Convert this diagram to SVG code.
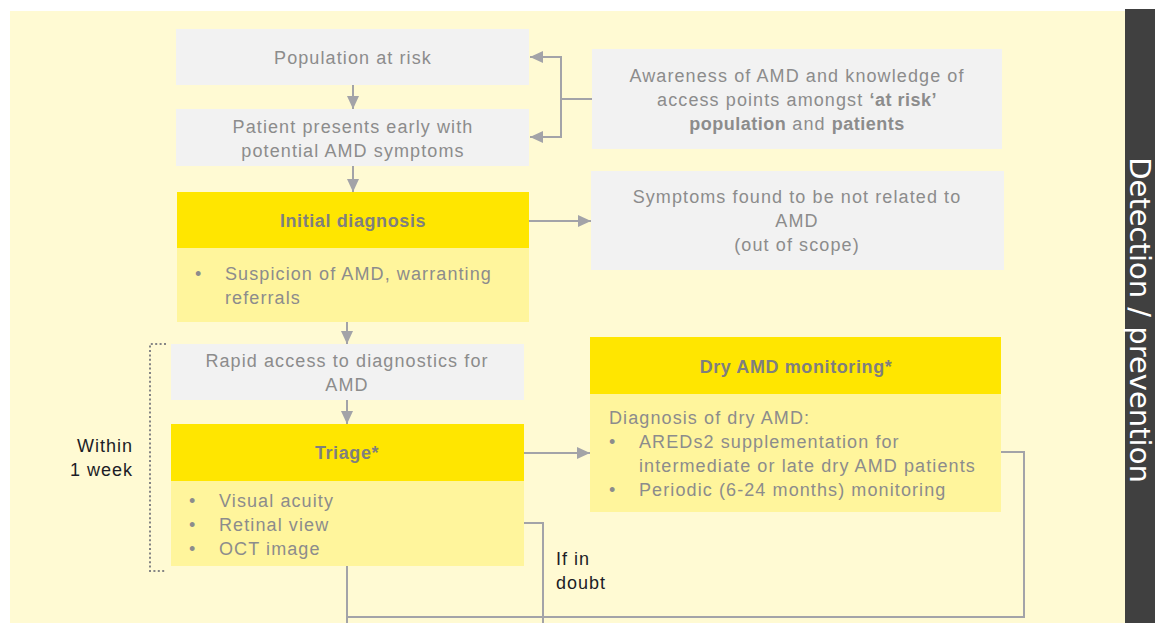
<svg xmlns="http://www.w3.org/2000/svg" width="1155" height="623" viewBox="0 0 1155 623">
<style>
  .grey{fill:#f2f2f2}
  .hdr{fill:#ffe600}
  .body{fill:#fff59c}
  text{font-family:'Liberation Sans',Arial,sans-serif;font-size:18px}
  .t{fill:#8c8c8c;letter-spacing:1.1px}
  .c{text-anchor:middle}
  .b{font-weight:bold;letter-spacing:0.5px}
  .h{fill:#7f7f7f;font-weight:bold;letter-spacing:0.6px;text-anchor:middle}
  .k{fill:#1c1c26;letter-spacing:1px}
  .ln{fill:none;stroke:#a3a3a8;stroke-width:2}
  .dot{fill:none;stroke:#858585;stroke-width:2;stroke-dasharray:2 2.4}
</style>
<defs>
  <marker id="ah" markerUnits="userSpaceOnUse" markerWidth="13" markerHeight="12" viewBox="0 0 13 12" refX="13" refY="6" orient="auto">
    <path d="M0,0 L13,6 L0,12 z" fill="#a3a3a8"/>
  </marker>
</defs>
<rect x="0" y="0" width="1155" height="623" fill="#ffffff"/>
<rect x="10" y="11" width="1115" height="612" fill="#fffad3"/>
<g id="sidebar">
  <rect x="1125" y="9" width="30" height="614" fill="#404040"/>
  <text transform="translate(1130,320) rotate(90)" text-anchor="middle" style="font-family:'DejaVu Sans',sans-serif;font-size:29px;fill:#ffffff">Detection / prevention</text>
</g>
<g id="connectors">
  <path class="ln" d="M353,85 V109" marker-end="url(#ah)"/>
  <path class="ln" d="M353,166 V192" marker-end="url(#ah)"/>
  <path class="ln" d="M592,99 H561 V57 H530" marker-end="url(#ah)"/>
  <path class="ln" d="M561,99 V137 H530" marker-end="url(#ah)"/>
  <path class="ln" d="M529,221 H591" marker-end="url(#ah)"/>
  <path class="ln" d="M347,322 V344" marker-end="url(#ah)"/>
  <path class="ln" d="M347,400 V424" marker-end="url(#ah)"/>
  <path class="ln" d="M524,453 H590" marker-end="url(#ah)"/>
  <path class="ln" d="M347,566 V623"/>
  <path class="ln" d="M524,523 H543 V623"/>
  <path class="ln" d="M1001,452 H1024 V617 H347"/>
  <path class="dot" d="M166,344 H150 V571 H166"/>
</g>
<g id="n-population">
  <rect class="grey" x="176" y="29" width="353" height="56"/>
  <text class="t c" x="353" y="64">Population at risk</text>
</g>
<g id="n-patient">
  <rect class="grey" x="176" y="109" width="353" height="57"/>
  <text class="t c" x="353" y="133">Patient presents early with</text>
  <text class="t c" x="353" y="157">potential AMD symptoms</text>
</g>
<g id="n-awareness">
  <rect class="grey" x="592" y="49" width="410" height="100"/>
  <text class="t c" x="797" y="82">Awareness of AMD and knowledge of</text>
  <text class="t c" x="797" y="106">access points amongst <tspan class="b">‘at risk’</tspan></text>
  <text class="t c" x="797" y="130"><tspan class="b">population</tspan> and <tspan class="b">patients</tspan></text>
</g>
<g id="n-symptoms">
  <rect class="grey" x="591" y="171" width="413" height="99"/>
  <text class="t c" x="797" y="203">Symptoms found to be not related to</text>
  <text class="t c" x="797" y="227">AMD</text>
  <text class="t c" x="797" y="251">(out of scope)</text>
</g>
<g id="n-initial">
  <rect class="hdr" x="177" y="192" width="352" height="56"/>
  <rect class="body" x="177" y="248" width="352" height="74"/>
  <text class="h" x="353" y="227">Initial diagnosis</text>
  <text class="t" x="195" y="280">•</text>
  <text class="t" x="225" y="280">Suspicion of AMD, warranting</text>
  <text class="t" x="225" y="304">referrals</text>
</g>
<g id="n-rapid">
  <rect class="grey" x="171" y="344" width="353" height="56"/>
  <text class="t c" x="347" y="367">Rapid access to diagnostics for</text>
  <text class="t c" x="347" y="391">AMD</text>
</g>
<g id="n-triage">
  <rect class="hdr" x="171" y="424" width="353" height="57"/>
  <rect class="body" x="171" y="481" width="353" height="85"/>
  <text class="h" x="347" y="459">Triage*</text>
  <text class="t" x="189" y="507">•</text>
  <text class="t" x="219" y="507">Visual acuity</text>
  <text class="t" x="189" y="531">•</text>
  <text class="t" x="219" y="531">Retinal view</text>
  <text class="t" x="189" y="555">•</text>
  <text class="t" x="219" y="555">OCT image</text>
</g>
<g id="n-dry">
  <rect class="hdr" x="590" y="337" width="411" height="57"/>
  <rect class="body" x="590" y="394" width="411" height="118"/>
  <text class="h" x="796" y="373">Dry AMD monitoring*</text>
  <text class="t" x="609" y="424">Diagnosis of dry AMD:</text>
  <text class="t" x="609" y="448">•</text>
  <text class="t" x="639" y="448">AREDs2 supplementation for</text>
  <text class="t" x="639" y="472">intermediate or late dry AMD patients</text>
  <text class="t" x="609" y="496">•</text>
  <text class="t" x="639" y="496">Periodic  (6-24 months) monitoring</text>
</g>
<g id="label-within">
  <text class="k" x="133" y="452" text-anchor="end">Within</text>
  <text class="k" x="133" y="476" text-anchor="end">1 week</text>
</g>
<g id="label-doubt">
  <text class="k" x="556" y="565">If in</text>
  <text class="k" x="556" y="589">doubt</text>
</g>
</svg>
